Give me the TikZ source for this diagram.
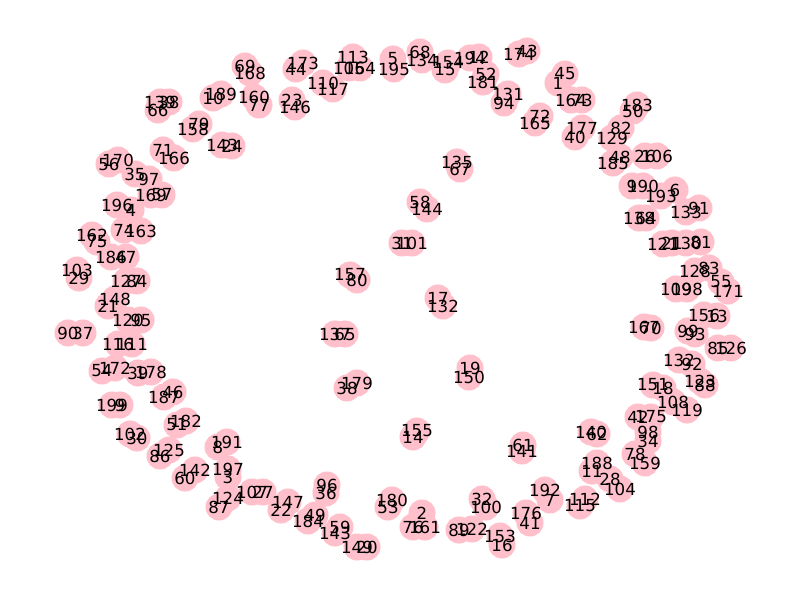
\documentclass[tikz,border=0pt]{standalone}
\usepackage{fontspec}
\setmainfont{DejaVu Sans}
\definecolor{nodepink}{HTML}{FFC0CB}
\tikzset{
  dot/.style={circle,fill=nodepink,draw=none,minimum size=19.54pt,inner sep=0pt},
  lab/.style={inner sep=0pt,text=black,font=\fontsize{12}{14}\selectfont}
}
\def\nodelist{245/66/69,250/73/168,221/94/189,213/98/10,254/97/160,259/105/77,160/102/139,169/102/38,158/110/66,199/124/79,193/129/158,222/145/143,232/146/24,163/150/71,174/158/166,109/164/56,118/160/170,135/174/35,149/179/97,151/195/169,162/195/57,117/205/196,131/210/4,124/230/74,141/231/163,92/235/162,97/242/75,111/257/186,126/257/47,77/270/103,79/278/29,126/281/127,137/281/84,115/299/148,108/306/21,128/320/120,141/320/95,68/333/90,83/333/37,118/344/116,132/344/111,102/371/54,115/368/172,138/373/39,151/372/178,164/397/187,173/392/46,112/405/199,120/405/9,186/421/182,177/425/51,130/434/102,137/438/30,169/450/125,160/456/86,227/442/191,218/447/8,195/470/142,185/478/60,228/469/197,228/477/3,228/498/124,219/507/87,252/492/107,263/492/27,288/502/147,281/510/22,327/485/96,326/493/36,308/521/184,315/515/49,340/527/59,335/533/143,357/547/149,367/547/20,392/500/180,388/507/53,422/513/2,413/527/76,425/527/161,482/499/32,486/507/100,459/530/89,472/529/122,500/536/153,502/545/16,526/513/176,530/523/41,545/490/192,550/500/7,585/499/112,580/506/115,597/463/188,592/471/11,610/479/28,620/489/104,591/432/140,597/434/62,523/445/61,522/451/141,417/431/155,413/437/14,635/454/78,645/463/159,648/432/98,648/441/34,638/417/42,651/417/175,673/402/108,687/410/119,653/385/151,663/388/18,700/381/123,705/385/88,679/360/132,692/364/92,718/348/85,731/348/126,688/331/99,695/334/93,644/327/167,651/328/70,704/315/156,717/316/13,676/289/109,687/289/198,721/282/55,728/291/171,695/271/128,709/268/83,663/244/121,672/243/21,686/243/130,701/242/81,639/218/138,646/218/64,686/212/133,699/208/91,661/196/193,675/190/6,632/186/9,643/186/190,645/156/26,657/156/106,620/157/48,613/163/185,637/105/183,633/111/50,621/128/82,612/138/129,582/128/177,575/137/40,571/100/164,582/100/73,565/74/45,558/83/1,540/116/72,535/123/165,508/94/131,504/103/94,519/54/174,527/51/43,486/74/52,483/82/181,470/58/194,479/57/12,448/63/154,445/70/15,420/52/68,422/60/134,393/59/5,394/69/195,353/57/113,349/68/105,360/68/164,323/83/110,333/89/117,296/69/44,303/63/173,292/100/23,295/107/146,457/162/135,460/169/67,420/202/58,427/209/144,402/243/31,412/243/101,350/275/157,357/280/80,438/298/17,443/306/132,335/334/137,345/334/65,347/388/38,357/383/179,470/368/19,469/377/150}
\begin{document}
\begin{tikzpicture}[x=0.01in,y=-0.01in]
\useasboundingbox (0,0) rectangle (800,600);
\foreach \px/\py/\t [count=\i] in \nodelist {
  \node[dot] (v\i) at (\px,\py) {};
}
\foreach \px/\py/\t [count=\i] in \nodelist {
  \node[lab] (l\i) at (v\i) {\t};
}
\end{tikzpicture}
\end{document}
